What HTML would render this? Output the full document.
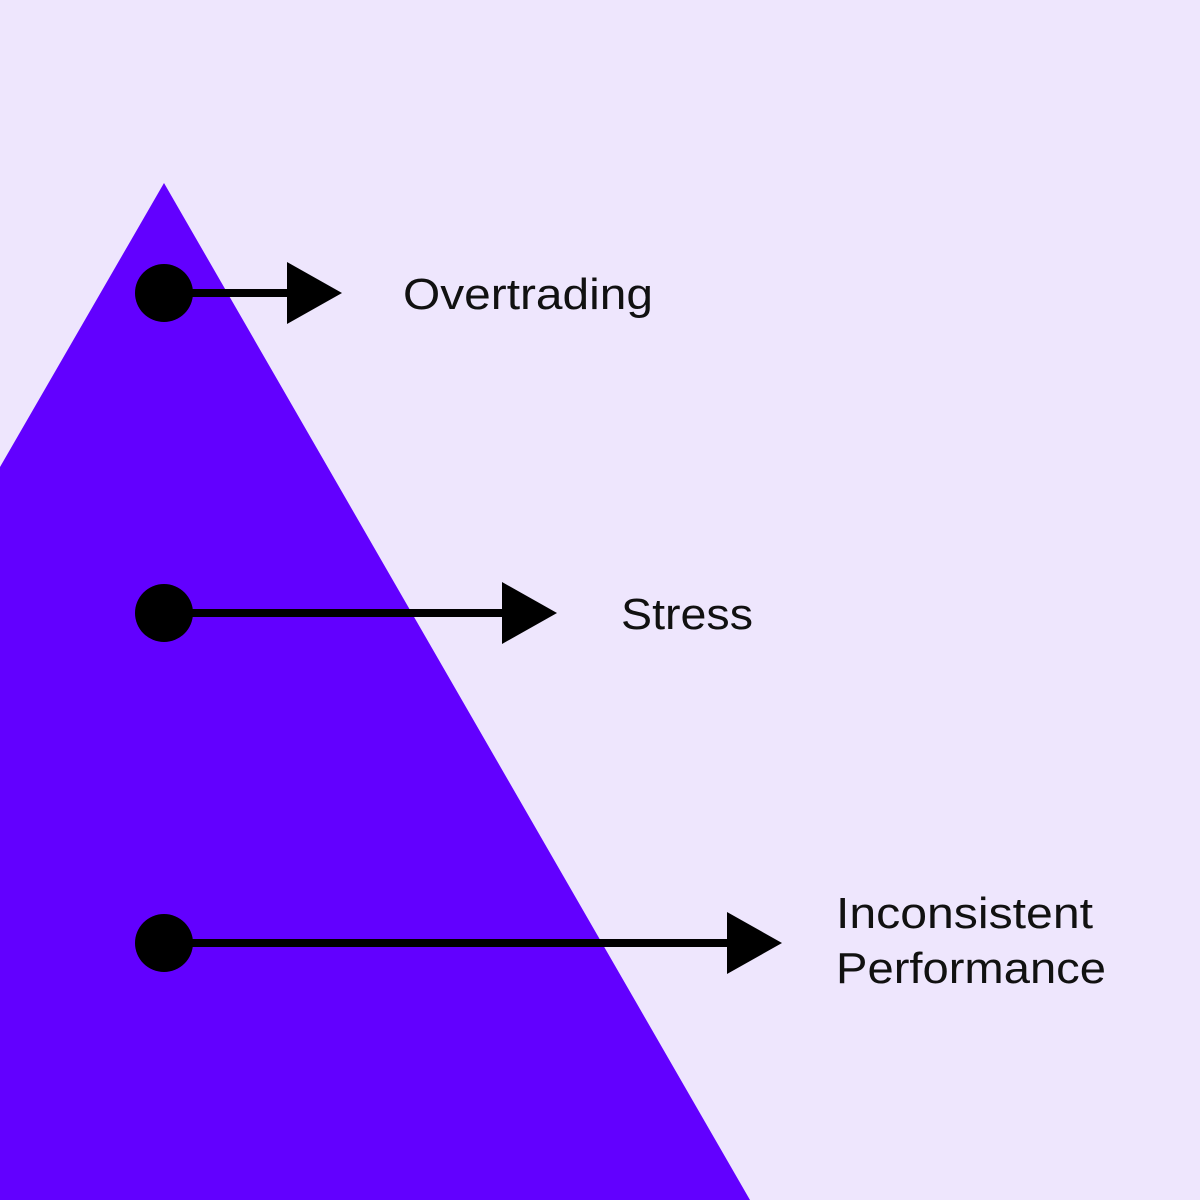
<!DOCTYPE html>
<html><head><style>
html,body{margin:0;padding:0;}
body{width:1200px;height:1200px;background:#EEE6FD;overflow:hidden;}
svg{display:block}
text{font-family:"Liberation Sans",sans-serif;font-size:44px;fill:#111;}
</style></head><body>
<svg width="1200" height="1200" viewBox="0 0 1200 1200">
<rect width="1200" height="1200" fill="#EEE6FD"/>
<polygon points="164,183 750,1200 0,1200 0,467" fill="#6200FF"/>
<g fill="#000" stroke="#000">
<circle cx="164" cy="293" r="29" stroke="none"/>
<line x1="164" y1="293" x2="292" y2="293" stroke-width="8"/>
<polygon points="287,262 342,293 287,324" stroke="none"/>
<circle cx="164" cy="613" r="29" stroke="none"/>
<line x1="164" y1="613" x2="507" y2="613" stroke-width="8"/>
<polygon points="502,582 557,613 502,644" stroke="none"/>
<circle cx="164" cy="943" r="29" stroke="none"/>
<line x1="164" y1="943" x2="732" y2="943" stroke-width="8"/>
<polygon points="727,912 782,943 727,974" stroke="none"/>
</g>
<text x="403" y="309" textLength="250" lengthAdjust="spacingAndGlyphs">Overtrading</text>
<text x="621" y="629" textLength="132" lengthAdjust="spacingAndGlyphs">Stress</text>
<text x="836" y="928" textLength="257" lengthAdjust="spacingAndGlyphs">Inconsistent</text>
<text x="836" y="983" textLength="270" lengthAdjust="spacingAndGlyphs">Performance</text>
</svg>
</body></html>
